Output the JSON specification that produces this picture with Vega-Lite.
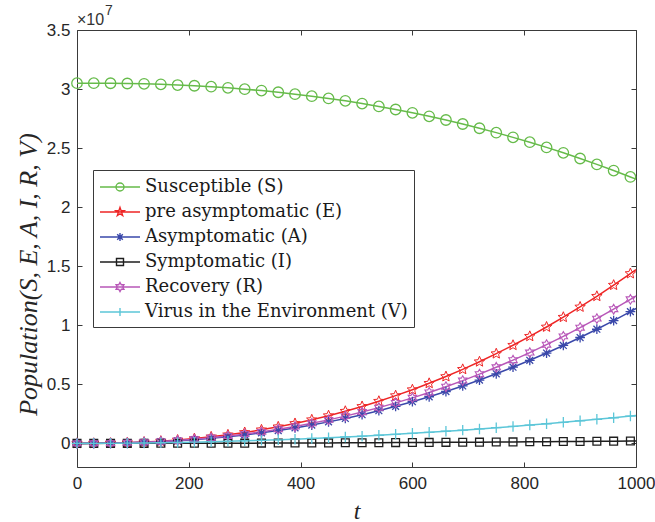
{
  "$schema": "https://vega.github.io/schema/vega-lite/v6.json",
  "width": 559,
  "height": 437,
  "autosize": "none",
  "padding": {"left": 77, "top": 30, "right": 19, "bottom": 55},
  "background": "white",
  "config": {
    "view": {"stroke": "#3a3a3a", "strokeWidth": 1},
    "axis": {"grid": false, "domain": false, "tickColor": "#3a3a3a", "tickSize": -5, "labelFont": "Liberation Sans", "labelFontSize": 17, "labelColor": "#262626", "labelFlush": false, "labelOverlap": false},
    "point": {"filled": false, "size": 95, "strokeWidth": 1.3, "opacity": 1}
  },
  "datasets": {
    "note": [{"label": "×10", "sup": "7", "t": 0, "value": 3.5}],
    "model": [
    {"t": 0, "Susceptible (S)": 3.050, "pre asymptomatic (E)": 0, "Asymptomatic (A)": 0, "Symptomatic (I)": 0, "Recovery (R)": 0, "Virus in the Environment (V)": 0},
    {"t": 30, "Susceptible (S)": 3.050, "pre asymptomatic (E)": 0.0005, "Asymptomatic (A)": 0.0004, "Symptomatic (I)": 0.0000, "Recovery (R)": 0.0004, "Virus in the Environment (V)": 0.0002},
    {"t": 60, "Susceptible (S)": 3.049, "pre asymptomatic (E)": 0.0023, "Asymptomatic (A)": 0.0018, "Symptomatic (I)": 0.0001, "Recovery (R)": 0.0020, "Virus in the Environment (V)": 0.0008},
    {"t": 90, "Susceptible (S)": 3.047, "pre asymptomatic (E)": 0.0058, "Asymptomatic (A)": 0.0045, "Symptomatic (I)": 0.0002, "Recovery (R)": 0.0049, "Virus in the Environment (V)": 0.0019},
    {"t": 120, "Susceptible (S)": 3.044, "pre asymptomatic (E)": 0.0112, "Asymptomatic (A)": 0.0087, "Symptomatic (I)": 0.0003, "Recovery (R)": 0.0095, "Virus in the Environment (V)": 0.0034},
    {"t": 150, "Susceptible (S)": 3.040, "pre asymptomatic (E)": 0.0188, "Asymptomatic (A)": 0.0146, "Symptomatic (I)": 0.0005, "Recovery (R)": 0.0159, "Virus in the Environment (V)": 0.0053},
    {"t": 180, "Susceptible (S)": 3.034, "pre asymptomatic (E)": 0.0285, "Asymptomatic (A)": 0.0221, "Symptomatic (I)": 0.0007, "Recovery (R)": 0.0242, "Virus in the Environment (V)": 0.0076},
    {"t": 210, "Susceptible (S)": 3.028, "pre asymptomatic (E)": 0.0407, "Asymptomatic (A)": 0.0316, "Symptomatic (I)": 0.0009, "Recovery (R)": 0.0345, "Virus in the Environment (V)": 0.0104},
    {"t": 240, "Susceptible (S)": 3.020, "pre asymptomatic (E)": 0.0552, "Asymptomatic (A)": 0.0428, "Symptomatic (I)": 0.0012, "Recovery (R)": 0.0468, "Virus in the Environment (V)": 0.0136},
    {"t": 270, "Susceptible (S)": 3.010, "pre asymptomatic (E)": 0.0725, "Asymptomatic (A)": 0.0563, "Symptomatic (I)": 0.0015, "Recovery (R)": 0.0615, "Virus in the Environment (V)": 0.0172},
    {"t": 300, "Susceptible (S)": 2.999, "pre asymptomatic (E)": 0.0923, "Asymptomatic (A)": 0.0716, "Symptomatic (I)": 0.0018, "Recovery (R)": 0.0783, "Virus in the Environment (V)": 0.0212},
    {"t": 330, "Susceptible (S)": 2.987, "pre asymptomatic (E)": 0.1149, "Asymptomatic (A)": 0.0892, "Symptomatic (I)": 0.0022, "Recovery (R)": 0.0974, "Virus in the Environment (V)": 0.0257},
    {"t": 360, "Susceptible (S)": 2.973, "pre asymptomatic (E)": 0.1404, "Asymptomatic (A)": 0.1090, "Symptomatic (I)": 0.0026, "Recovery (R)": 0.1191, "Virus in the Environment (V)": 0.0305},
    {"t": 390, "Susceptible (S)": 2.957, "pre asymptomatic (E)": 0.1687, "Asymptomatic (A)": 0.1309, "Symptomatic (I)": 0.0031, "Recovery (R)": 0.1431, "Virus in the Environment (V)": 0.0358},
    {"t": 420, "Susceptible (S)": 2.940, "pre asymptomatic (E)": 0.2000, "Asymptomatic (A)": 0.1552, "Symptomatic (I)": 0.0036, "Recovery (R)": 0.1696, "Virus in the Environment (V)": 0.0416},
    {"t": 450, "Susceptible (S)": 2.921, "pre asymptomatic (E)": 0.2345, "Asymptomatic (A)": 0.1820, "Symptomatic (I)": 0.0041, "Recovery (R)": 0.1989, "Virus in the Environment (V)": 0.0477},
    {"t": 480, "Susceptible (S)": 2.900, "pre asymptomatic (E)": 0.2721, "Asymptomatic (A)": 0.2111, "Symptomatic (I)": 0.0047, "Recovery (R)": 0.2307, "Virus in the Environment (V)": 0.0543},
    {"t": 510, "Susceptible (S)": 2.877, "pre asymptomatic (E)": 0.3128, "Asymptomatic (A)": 0.2427, "Symptomatic (I)": 0.0053, "Recovery (R)": 0.2653, "Virus in the Environment (V)": 0.0613},
    {"t": 540, "Susceptible (S)": 2.853, "pre asymptomatic (E)": 0.3568, "Asymptomatic (A)": 0.2769, "Symptomatic (I)": 0.0059, "Recovery (R)": 0.3026, "Virus in the Environment (V)": 0.0687},
    {"t": 570, "Susceptible (S)": 2.827, "pre asymptomatic (E)": 0.4041, "Asymptomatic (A)": 0.3136, "Symptomatic (I)": 0.0066, "Recovery (R)": 0.3427, "Virus in the Environment (V)": 0.0766},
    {"t": 600, "Susceptible (S)": 2.799, "pre asymptomatic (E)": 0.4546, "Asymptomatic (A)": 0.3528, "Symptomatic (I)": 0.0073, "Recovery (R)": 0.3855, "Virus in the Environment (V)": 0.0849},
    {"t": 630, "Susceptible (S)": 2.769, "pre asymptomatic (E)": 0.5085, "Asymptomatic (A)": 0.3946, "Symptomatic (I)": 0.0081, "Recovery (R)": 0.4312, "Virus in the Environment (V)": 0.0935},
    {"t": 660, "Susceptible (S)": 2.738, "pre asymptomatic (E)": 0.5659, "Asymptomatic (A)": 0.4391, "Symptomatic (I)": 0.0089, "Recovery (R)": 0.4799, "Virus in the Environment (V)": 0.1027},
    {"t": 690, "Susceptible (S)": 2.704, "pre asymptomatic (E)": 0.6268, "Asymptomatic (A)": 0.4864, "Symptomatic (I)": 0.0097, "Recovery (R)": 0.5315, "Virus in the Environment (V)": 0.1122},
    {"t": 720, "Susceptible (S)": 2.668, "pre asymptomatic (E)": 0.6912, "Asymptomatic (A)": 0.5364, "Symptomatic (I)": 0.0106, "Recovery (R)": 0.5861, "Virus in the Environment (V)": 0.1222},
    {"t": 750, "Susceptible (S)": 2.631, "pre asymptomatic (E)": 0.7594, "Asymptomatic (A)": 0.5893, "Symptomatic (I)": 0.0115, "Recovery (R)": 0.6440, "Virus in the Environment (V)": 0.1326},
    {"t": 780, "Susceptible (S)": 2.591, "pre asymptomatic (E)": 0.8310, "Asymptomatic (A)": 0.6449, "Symptomatic (I)": 0.0124, "Recovery (R)": 0.7047, "Virus in the Environment (V)": 0.1434},
    {"t": 810, "Susceptible (S)": 2.550, "pre asymptomatic (E)": 0.9064, "Asymptomatic (A)": 0.7034, "Symptomatic (I)": 0.0134, "Recovery (R)": 0.7686, "Virus in the Environment (V)": 0.1546},
    {"t": 840, "Susceptible (S)": 2.506, "pre asymptomatic (E)": 0.9855, "Asymptomatic (A)": 0.7647, "Symptomatic (I)": 0.0144, "Recovery (R)": 0.8357, "Virus in the Environment (V)": 0.1663},
    {"t": 870, "Susceptible (S)": 2.460, "pre asymptomatic (E)": 1.0683, "Asymptomatic (A)": 0.8290, "Symptomatic (I)": 0.0154, "Recovery (R)": 0.9059, "Virus in the Environment (V)": 0.1784},
    {"t": 900, "Susceptible (S)": 2.412, "pre asymptomatic (E)": 1.1550, "Asymptomatic (A)": 0.8963, "Symptomatic (I)": 0.0165, "Recovery (R)": 0.9794, "Virus in the Environment (V)": 0.1909},
    {"t": 930, "Susceptible (S)": 2.362, "pre asymptomatic (E)": 1.2455, "Asymptomatic (A)": 0.9665, "Symptomatic (I)": 0.0176, "Recovery (R)": 1.0562, "Virus in the Environment (V)": 0.2038},
    {"t": 960, "Susceptible (S)": 2.310, "pre asymptomatic (E)": 1.3398, "Asymptomatic (A)": 1.0397, "Symptomatic (I)": 0.0188, "Recovery (R)": 1.1362, "Virus in the Environment (V)": 0.2172},
    {"t": 990, "Susceptible (S)": 2.256, "pre asymptomatic (E)": 1.4380, "Asymptomatic (A)": 1.1159, "Symptomatic (I)": 0.0200, "Recovery (R)": 1.2194, "Virus in the Environment (V)": 0.2310},
    {"t": 1000, "Susceptible (S)": 2.237, "pre asymptomatic (E)": 1.4716, "Asymptomatic (A)": 1.1420, "Symptomatic (I)": 0.0204, "Recovery (R)": 1.2479, "Virus in the Environment (V)": 0.2357}
  ]},
  "data": {"name": "model"},
  "transform": [
    {"fold": ["Susceptible (S)", "pre asymptomatic (E)", "Asymptomatic (A)", "Symptomatic (I)", "Recovery (R)", "Virus in the Environment (V)"], "as": ["series", "value"]}
  ],
  "layer": [
    {
      "mark": {"type": "line", "strokeWidth": 1.5},
      "encoding": {
        "x": {"field": "t", "type": "quantitative", "scale": {"domain": [0, 1000], "nice": false},
          "axis": {"values": [0, 200, 400, 600, 800, 1000], "format": "d", "labelPadding": 13, "title": "t", "titleFont": "Liberation Serif", "titleFontStyle": "italic", "titleFontSize": 24, "titleFontWeight": "normal", "titleColor": "#262626", "titleY": 44, "titleBaseline": "middle"}},
        "y": {"field": "value", "type": "quantitative", "scale": {"domain": [-0.2, 3.5], "nice": false, "zero": false},
          "axis": {"values": [0, 0.5, 1, 1.5, 2, 2.5, 3, 3.5], "format": "~g", "labelPadding": 12, "title": "Population(S, E, A, I, R, V)", "titleFont": "Liberation Serif", "titleFontStyle": "italic", "titleFontSize": 26, "titleFontWeight": "normal", "titleColor": "#262626", "titleAngle": 270, "titleX": -49, "titleY": 244, "titleBaseline": "middle", "titleAlign": "center"}},
        "color": {"field": "series", "type": "nominal",
          "scale": {"domain": ["Susceptible (S)", "pre asymptomatic (E)", "Asymptomatic (A)", "Symptomatic (I)", "Recovery (R)", "Virus in the Environment (V)"],
                    "range": ["#66bb4a", "#ee2626", "#3a48aa", "#1e1e1e", "#b857b8", "#5cc6d8"]},
          "legend": {"orient": "none", "legendX": 16, "legendY": 140, "title": null, "strokeColor": "#3a3a3a", "fillColor": "white", "padding": 6, "rowPadding": 5,
            "labelFont": "DejaVu Serif", "labelFontSize": 18, "labelColor": "#1a1a1a", "labelLimit": 0, "labelOffset": 24, "symbolSize": 400, "symbolStrokeWidth": 1.4,
            "encode": {"symbols": {"update": {
              "shape": {"signal": "['M-1,0H3M0.6,0A0.4,0.4 0 1,1 1.4,0A0.4,0.4 0 1,1 0.6,0', 'M-1,0H3M1,-0.45L1.106,-0.146L1.428,-0.139L1.171,0.056L1.265,0.364L1,0.18L0.735,0.364L0.829,0.056L0.572,-0.139L0.894,-0.146Z', 'M-1,0H3M0.6,0H1.4M1,-0.4V0.4M0.72,-0.28L1.28,0.28M0.72,0.28L1.28,-0.28', 'M-1,0H3M0.65,-0.35H1.35V0.35H0.65Z', 'M-1,0H3M1,-0.45L1.13,-0.225L1.39,-0.225L1.26,0L1.39,0.225L1.13,0.225L1,0.45L0.87,0.225L0.61,0.225L0.74,0L0.61,-0.225L0.87,-0.225Z', 'M-1,0H3M0.6,0H1.4M1,-0.4V0.4'][indexof(['Susceptible (S)', 'pre asymptomatic (E)', 'Asymptomatic (A)', 'Symptomatic (I)', 'Recovery (R)', 'Virus in the Environment (V)'], datum.value)]"},
              "fill": {"value": "transparent"},
              "stroke": {"scale": "color", "field": "value"},
              "strokeWidth": {"value": 1.4},
              "opacity": {"value": 1}
            }}}}
        }
      }
    },
    {
      "transform": [{"filter": "datum.t <= 990 && datum.series === 'Susceptible (S)'"}],
      "mark": {"type": "point", "shape": "circle", "size": 110},
      "encoding": {"x": {"field": "t", "type": "quantitative", "axis": null}, "y": {"field": "value", "type": "quantitative", "axis": null}, "color": {"field": "series", "type": "nominal", "legend": null}}
    },
    {
      "transform": [{"filter": "datum.t <= 990 && datum.series === 'pre asymptomatic (E)'"}],
      "mark": {"type": "point", "shape": "M0,-1L0.265,-0.364L0.951,-0.309L0.428,0.139L0.588,0.809L0,0.45L-0.588,0.809L-0.428,0.139L-0.951,-0.309L-0.265,-0.364Z", "size": 120, "strokeWidth": 1.0},
      "encoding": {"x": {"field": "t", "type": "quantitative", "axis": null}, "y": {"field": "value", "type": "quantitative", "axis": null}, "color": {"field": "series", "type": "nominal", "legend": null}}
    },
    {
      "transform": [{"filter": "datum.t <= 990 && datum.series === 'Asymptomatic (A)'"}],
      "mark": {"type": "point", "shape": "M-1,0H1M0,-1V1M-0.7,-0.7L0.7,0.7M-0.7,0.7L0.7,-0.7"},
      "encoding": {"x": {"field": "t", "type": "quantitative", "axis": null}, "y": {"field": "value", "type": "quantitative", "axis": null}, "color": {"field": "series", "type": "nominal", "legend": null}}
    },
    {
      "transform": [{"filter": "datum.t <= 990 && datum.series === 'Symptomatic (I)'"}],
      "mark": {"type": "point", "shape": "M-0.8,-0.8H0.8V0.8H-0.8Z"},
      "encoding": {"x": {"field": "t", "type": "quantitative", "axis": null}, "y": {"field": "value", "type": "quantitative", "axis": null}, "color": {"field": "series", "type": "nominal", "legend": null}}
    },
    {
      "transform": [{"filter": "datum.t <= 990 && datum.series === 'Recovery (R)'"}],
      "mark": {"type": "point", "shape": "M0,-1L0.289,-0.5L0.866,-0.5L0.577,0L0.866,0.5L0.289,0.5L0,1L-0.289,0.5L-0.866,0.5L-0.577,0L-0.866,-0.5L-0.289,-0.5Z", "strokeWidth": 1.1},
      "encoding": {"x": {"field": "t", "type": "quantitative", "axis": null}, "y": {"field": "value", "type": "quantitative", "axis": null}, "color": {"field": "series", "type": "nominal", "legend": null}}
    },
    {
      "transform": [{"filter": "datum.t <= 990 && datum.series === 'Virus in the Environment (V)'"}],
      "mark": {"type": "point", "shape": "M-1,0H1M0,-1V1", "size": 110},
      "encoding": {"x": {"field": "t", "type": "quantitative", "axis": null}, "y": {"field": "value", "type": "quantitative", "axis": null}, "color": {"field": "series", "type": "nominal", "legend": null}}
    },
    {
      "mark": {"type": "point", "opacity": 0},
      "encoding": {
        "x": {"field": "t", "type": "quantitative", "axis": {"orient": "top", "values": [0, 200, 400, 600, 800, 1000], "labels": false, "title": null}},
        "y": {"field": "value", "type": "quantitative", "axis": {"orient": "right", "values": [0, 0.5, 1, 1.5, 2, 2.5, 3, 3.5], "labels": false, "title": null}}
      }
    },
    {
      "data": {"name": "note"},
      "transform": [],
      "mark": {"type": "text", "align": "left", "baseline": "alphabetic", "dx": 0, "dy": -5, "font": "Liberation Sans", "color": "#333333"},
      "encoding": {
        "x": {"field": "t", "type": "quantitative", "axis": null},
        "y": {"field": "value", "type": "quantitative", "axis": null},
        "text": {"field": "label"},
        "size": {"value": 16}
      }
    },
    {
      "data": {"name": "note"},
      "transform": [],
      "mark": {"type": "text", "align": "left", "baseline": "alphabetic", "dx": 28, "dy": -15, "font": "Liberation Sans", "color": "#333333"},
      "encoding": {
        "x": {"field": "t", "type": "quantitative", "axis": null},
        "y": {"field": "value", "type": "quantitative", "axis": null},
        "text": {"field": "sup"},
        "size": {"value": 14}
      }
    }
  ],
  "resolve": {"axis": {"x": "independent", "y": "independent"}}
}
